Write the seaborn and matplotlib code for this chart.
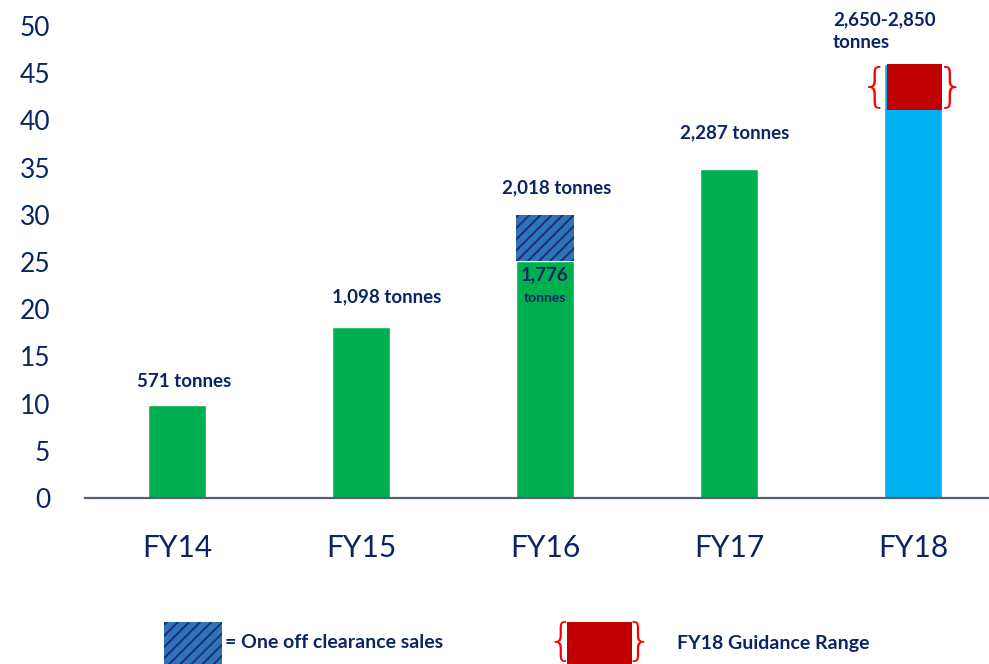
import matplotlib
matplotlib.use('Agg')
import matplotlib.pyplot as plt
from matplotlib.patches import Rectangle
import seaborn as sns
import pandas as pd

# Data
years = ['FY14', 'FY15', 'FY16', 'FY17', 'FY18']
base_values = [9.8, 18.1, 25.1, 34.9, 46.0]
bar_colors = ['#00B050', '#00B050', '#00B050', '#00B050', '#00B0F0']
clearance_year = 'FY16'
clearance_extra = 4.9
guidance_low = 41.1
guidance_high = 46.0
labels = ['571 tonnes', '1,098 tonnes', '2,018 tonnes', '2,287 tonnes', '2,650-2,850\ntonnes']
label_y = [12.3, 21.3, 32.9, 38.7, 49.5]
label_dx = [0.04, 0.14, 0.065, 0.03, -0.435]
inner_label = ('1,776', 'tonnes')
y_ticks = list(range(0, 51, 5))

NAVY = '#0B2563'
RED = '#C00000'
HATCH_FILL = '#2E75B6'
HATCH_LINE = '#1F2A80'

sns.set_theme(style='white')
plt.rcParams['font.family'] = ['Lato', 'DejaVu Sans']
plt.rcParams['hatch.linewidth'] = 1.4

df = pd.DataFrame({'year': years, 'value': base_values})

fig = plt.figure(figsize=(9.89, 6.64), dpi=100)
ax = fig.add_axes([85 / 989, (664 - 498) / 664, 920 / 989, 472 / 664])

sns.barplot(data=df, x='year', y='value', hue='year', palette=bar_colors,
            width=0.32, legend=False, ax=ax, saturation=1)

# one-off clearance sales stacked on FY16
i16 = years.index(clearance_year)
ax.bar(i16, clearance_extra, bottom=base_values[i16], width=0.32,
       color=HATCH_FILL, edgecolor=HATCH_LINE, hatch='///', linewidth=0)

# FY18 guidance range
i18 = years.index('FY18')
ax.bar(i18 + 0.008, guidance_high - guidance_low, bottom=guidance_low, width=0.30,
       color=RED, linewidth=0)
mid = (guidance_low + guidance_high) / 2
ax.text(i18 - 0.205, mid, '{', color='#FF0000', fontsize=34, fontweight='light',
        ha='center', va='center', family='DejaVu Sans')
ax.text(i18 + 0.205, mid, '}', color='#FF0000', fontsize=34, fontweight='light',
        ha='center', va='center', family='DejaVu Sans')

# value labels
for i, (txt, yv, dx) in enumerate(zip(labels, label_y, label_dx)):
    ha = 'left' if i == i18 else 'center'
    ax.text(i + dx, yv, txt, ha=ha, va='center', color=NAVY, fontsize=13.5,
            fontweight='bold', linespacing=1.4)

ax.text(i16, 23.6, inner_label[0], ha='center', va='center', color=NAVY,
        fontsize=13.5, fontweight='bold')
ax.text(i16, 21.2, inner_label[1], ha='center', va='center', color=NAVY,
        fontsize=10, fontweight='bold')

ax.set_xlim(-0.5, 4.5)
ax.set_ylim(0, 50)
ax.set_yticks(y_ticks)
ax.set_xlabel('')
ax.set_ylabel('')
ax.tick_params(axis='y', length=0, pad=25, labelsize=19, labelcolor=NAVY)
ax.tick_params(axis='x', length=0, pad=26, labelsize=21.5, labelcolor=NAVY)
for side in ['top', 'right', 'left']:
    ax.spines[side].set_visible(False)
ax.spines['bottom'].set_color('#56606E')
ax.spines['bottom'].set_linewidth(1.6)

# legend at the bottom
W, H = 989, 664
fig.patches.append(Rectangle((164 / W, 0), 58 / W, 42 / H, transform=fig.transFigure,
                             facecolor=HATCH_FILL, edgecolor=HATCH_LINE, hatch='///',
                             linewidth=0, figure=fig))
fig.text(225 / W, 21 / H, '= One off clearance sales', color=NAVY, fontsize=14,
         fontweight='bold', ha='left', va='center')

fig.patches.append(Rectangle((567 / W, 0), 65 / W, 42 / H, transform=fig.transFigure,
                             facecolor=RED, linewidth=0, figure=fig))
fig.text(561 / W, 21 / H, '{', color='#FF0000', fontsize=32, fontweight='light',
         ha='center', va='center', family='DejaVu Sans')
fig.text(639 / W, 21 / H, '}', color='#FF0000', fontsize=32, fontweight='light',
         ha='center', va='center', family='DejaVu Sans')
fig.text(677 / W, 21 / H, 'FY18 Guidance Range', color=NAVY, fontsize=14,
         fontweight='bold', ha='left', va='center')

fig.savefig('out.png', dpi=100)
